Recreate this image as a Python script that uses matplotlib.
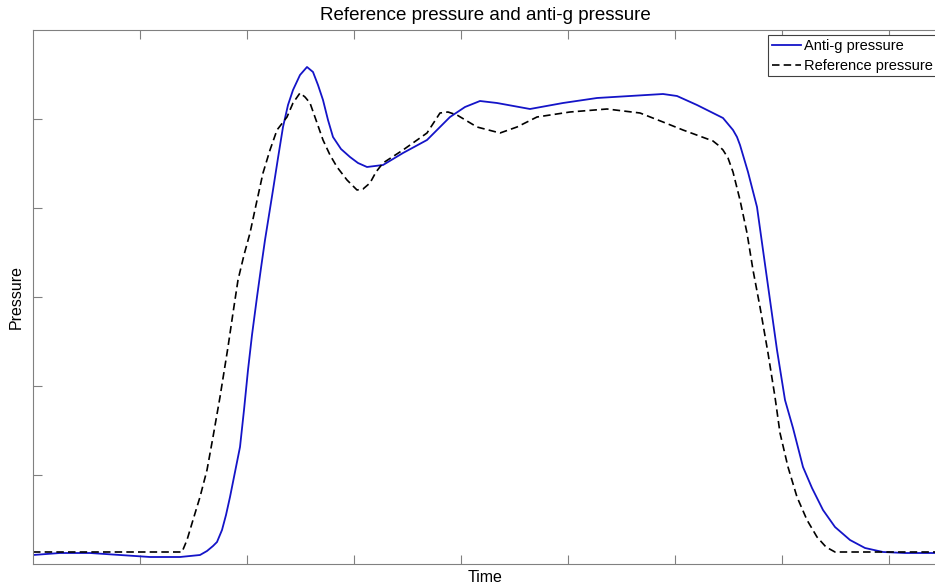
import numpy as np
import matplotlib.pyplot as plt

plt.rcParams['font.family'] = ['Liberation Sans', 'DejaVu Sans']

# values (arbitrary units: ticks every 107 on time, every 89 on pressure)
t_antig = [0, 27, 57, 87, 117, 147, 167, 174, 180, 184, 189, 193, 197, 202, 207, 211,
           215, 219, 224, 228, 232, 236, 240, 245, 250, 255, 260, 267, 274, 280, 285,
           290, 295, 300, 308, 317, 325, 334, 350, 370, 394, 417, 432, 447, 464, 497,
           530, 564, 597, 630, 644, 664, 690, 700, 704, 707, 715, 724, 730, 737, 744,
           752, 760, 770, 779, 790, 802, 817, 832, 850, 872, 904]
p_antig = [9, 11, 11, 9, 7, 7, 9, 13, 18, 22, 34, 49, 67, 92, 117, 154,
           194, 229, 267, 296, 324, 349, 374, 406, 437, 459, 474, 489, 497, 492, 479,
           464, 444, 427, 415, 407, 401, 397, 399, 411, 424, 447, 457, 463, 461, 455,
           461, 466, 468, 470, 468, 459, 446, 434, 427, 419, 392, 357, 314, 264, 214,
           164, 136, 97, 76, 54, 37, 24, 16, 12, 11, 11]

t_ref = [0, 149, 154, 160, 167, 174, 180, 187, 195, 200, 205, 211, 217, 223, 230,
         237, 244, 254, 260, 267, 272, 277, 283, 290, 297, 304, 314, 324, 330, 337,
         343, 350, 370, 394, 407, 415, 424, 444, 467, 484, 504, 537, 574, 607, 630,
         650, 680, 685, 690, 695, 700, 707, 714, 720, 727, 735, 742, 747, 755, 764,
         774, 784, 793, 802, 904]
p_ref = [12, 12, 24, 44, 67, 94, 127, 167, 217, 251, 284, 309, 331, 359, 391,
         414, 434, 447, 461, 471, 467, 461, 444, 424, 409, 397, 384, 374, 375, 381,
         392, 401, 414, 431, 451, 452, 449, 437, 431, 437, 447, 452, 455, 451, 442,
         434, 423, 419, 414, 406, 392, 364, 331, 294, 257, 211, 167, 131, 97, 67,
         44, 27, 17, 12, 12]

fig = plt.figure(figsize=(9.35, 5.87), dpi=100)
ax = fig.add_axes([33/935, 23/587, 904/935, 534/587])

ax.plot(t_antig, p_antig, color='#1414c8', lw=1.3, label='Anti-g pressure')
ax.plot(t_ref, p_ref, color='black', lw=1.2, dashes=(4.5, 2.5), label='Reference pressure')

ax.set_xlim(0, 904)
ax.set_ylim(0, 534)
ax.set_xticks(np.arange(107, 902, 107))
ax.set_yticks(np.arange(89, 534, 89))
ax.set_xticklabels([])
ax.set_yticklabels([])
ax.tick_params(direction='in', length=6.5, color='#808080', top=True, right=False)
for s in ax.spines.values():
    s.set_color('#808080')

ax.set_title('Reference pressure and anti-g pressure', fontsize=13.5, pad=7)
ax.set_xlabel('Time', fontsize=11.5, labelpad=1)
ax.set_ylabel('Pressure', fontsize=11.5, labelpad=3)

leg = ax.legend(loc='upper left', bbox_to_anchor=(768/935, 1 - 35/587),
                bbox_transform=fig.transFigure, borderaxespad=0, fontsize=10.5,
                fancybox=False, framealpha=1, edgecolor='#404040',
                handlelength=2.0, handletextpad=0.2, labelspacing=0.42, borderpad=0.25)
leg.get_frame().set_linewidth(0.8)

fig.savefig('out.png', dpi=100)
